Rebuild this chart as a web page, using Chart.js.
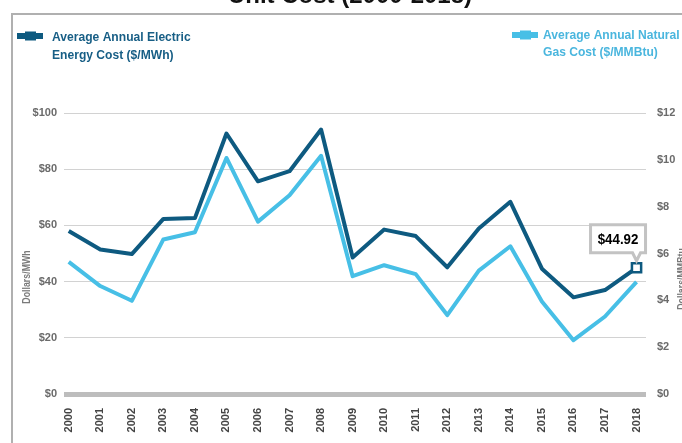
<!DOCTYPE html>
<html>
<head>
<meta charset="utf-8">
<title>Average Annual Energy Cost</title>
<script src="https://cdn.jsdelivr.net/npm/chart.js@4.4.1/dist/chart.umd.min.js"></script>
<style>
  html, body { margin: 0; padding: 0; background: #ffffff; }
  #wrap { width: 682px; height: 443px; }
</style>
</head>
<body>
<div id="wrap"><canvas id="costChart" width="682" height="443"></canvas></div>
<script>
// values
var years = [2000, 2001, 2002, 2003, 2004, 2005, 2006, 2007, 2008, 2009,
  2010, 2011, 2012, 2013, 2014, 2015, 2016, 2017, 2018];
var electricCost = [58.0, 51.4, 49.8, 62.3, 62.6, 92.7, 75.7, 79.3, 94.1, 48.6,
  58.5, 56.2, 45.1, 58.9, 68.4, 44.6, 34.4, 37.0, 44.92];
var gasCost = [5.64, 4.61, 3.98, 6.6, 6.91, 10.08, 7.36, 8.49, 10.17, 5.03,
  5.5, 5.12, 3.37, 5.27, 6.31, 3.95, 2.3, 3.31, 4.79];
var electricLabel = ["Average Annual Electric", "Energy Cost ($/MWh)"];
var gasLabel = ["Average Annual Natural", "Gas Cost ($/MMBtu)"];
var chartTitle = "Unit Cost (2000-2018)";
var leftAxisTitle = "Dollars/MWh";
var rightAxisTitle = "Dollars/MMBtu";

var electricColor = "#0e5a80";
var gasColor = "#47bfe6";
var sansFont = "'Liberation Sans', Arial, sans-serif";

function toPoints(values) {
  return values.map(function (v, i) {
    return { x: years[i], y: v };
  });
}

function drawMarker(ctx, x, y, color) {
  ctx.fillStyle = color;
  ctx.fillRect(x, y - 3, 26, 6);
  ctx.fillRect(x + 8, y - 4.5, 11, 9);
}

// squeeze text sideways, the original uses a condensed face
function fillNarrow(ctx, text, x, y, sx, angle) {
  ctx.save();
  ctx.translate(x, y);
  if (angle) ctx.rotate(angle);
  ctx.scale(sx, 1);
  ctx.fillText(text, 0, 0);
  ctx.restore();
}

// frame, cut title, legend, axis titles and the last-value callout
var decorPlugin = {
  id: "decor",
  afterDraw: function (chart) {
    var ctx = chart.ctx;
    ctx.save();

    ctx.strokeStyle = "#b0b0b0";
    ctx.lineWidth = 2;
    ctx.beginPath();
    ctx.moveTo(12, 443);
    ctx.lineTo(12, 14);
    ctx.lineTo(682, 14);
    ctx.stroke();

    // title sits mostly above the crop, only its foot shows
    ctx.fillStyle = "#111111";
    ctx.font = "bold 24px " + sansFont;
    ctx.textAlign = "center";
    ctx.textBaseline = "alphabetic";
    ctx.fillText(chartTitle, 350, 3);

    ctx.textAlign = "left";
    ctx.textBaseline = "middle";
    ctx.font = "bold 13px " + sansFont;
    drawMarker(ctx, 17, 36, electricColor);
    ctx.fillStyle = "#175e85";
    fillNarrow(ctx, electricLabel[0], 52, 37, 0.93);
    fillNarrow(ctx, electricLabel[1], 52, 55, 0.93);
    drawMarker(ctx, 512, 35, gasColor);
    ctx.fillStyle = "#4ab6de";
    fillNarrow(ctx, gasLabel[0], 543, 35, 0.93);
    fillNarrow(ctx, gasLabel[1], 543, 52, 0.93);

    ctx.font = "bold 11px " + sansFont;
    ctx.fillStyle = "#7a7a7a";
    ctx.textAlign = "center";
    fillNarrow(ctx, leftAxisTitle, 27, 277, 0.8, -Math.PI / 2);
    fillNarrow(ctx, rightAxisTitle, 682, 279, 0.8, -Math.PI / 2);

    var meta = chart.getDatasetMeta(0);
    var last = meta.data[meta.data.length - 1];
    var right = last.x + 9;
    var left = right - 55;
    var bottom = last.y - 15;
    var top = bottom - 28;
    ctx.beginPath();
    ctx.moveTo(left, top);
    ctx.lineTo(right, top);
    ctx.lineTo(right, bottom);
    ctx.lineTo(last.x + 4, bottom);
    ctx.lineTo(last.x, last.y - 7);
    ctx.lineTo(last.x - 4, bottom);
    ctx.lineTo(left, bottom);
    ctx.closePath();
    ctx.fillStyle = "#ffffff";
    ctx.fill();
    ctx.strokeStyle = "#c3c3c3";
    ctx.lineWidth = 3;
    ctx.stroke();
    ctx.fillStyle = "#000000";
    ctx.font = "bold 14px " + sansFont;
    fillNarrow(ctx, "$" + electricCost[electricCost.length - 1].toFixed(2),
      (left + right) / 2, (top + bottom) / 2 + 1, 0.95);

    ctx.restore();
  },
};

var ctx = document.getElementById("costChart").getContext("2d");
var costChart = new Chart(ctx, {
  type: "line",
  data: {
    datasets: [
      {
        label: electricLabel.join(" "),
        data: toPoints(electricCost),
        yAxisID: "y",
        borderColor: electricColor,
        borderWidth: 4,
        borderJoinStyle: "round",
        tension: 0,
        pointStyle: "rect",
        pointRadius: function (c) {
          return c.dataIndex === years.length - 1 ? 6.5 : 0;
        },
        pointHoverRadius: 0,
        pointBackgroundColor: "#ffffff",
        pointBorderColor: electricColor,
        pointBorderWidth: 2.5,
      },
      {
        label: gasLabel.join(" "),
        data: toPoints(gasCost),
        yAxisID: "y2",
        borderColor: gasColor,
        borderWidth: 4,
        borderJoinStyle: "round",
        tension: 0,
        pointRadius: 0,
        pointHoverRadius: 0,
      },
    ],
  },
  options: {
    responsive: false,
    animation: false,
    layout: { padding: { top: 113, left: 0, right: 0, bottom: 0 } },
    plugins: {
      legend: { display: false },
      tooltip: { enabled: false },
    },
    scales: {
      x: {
        type: "linear",
        min: 1999.85,
        max: 2018.3,
        grid: { display: false, drawTicks: false },
        border: { display: false },
        ticks: {
          stepSize: 1,
          includeBounds: false,
          autoSkip: false,
          minRotation: 90,
          maxRotation: 90,
          padding: 14,
          color: "#444444",
          font: { family: sansFont, size: 11, weight: "bold" },
          callback: function (v) {
            return String(v);
          },
        },
        afterFit: function (s) {
          s.height = 49;
        },
      },
      y: {
        position: "left",
        min: 0,
        max: 100,
        border: { display: false },
        grid: {
          drawTicks: false,
          color: function (c) {
            return c.tick.value === 0 ? "#bdbdbd" : "#d2d2d2";
          },
          lineWidth: function (c) {
            return c.tick.value === 0 ? 5 : 1;
          },
        },
        ticks: {
          stepSize: 20,
          padding: 7,
          color: "#6b6b6b",
          font: { family: sansFont, size: 11, weight: "bold" },
          callback: function (v) {
            return "$" + v;
          },
        },
        afterFit: function (s) {
          s.width = 64;
        },
      },
      y2: {
        position: "right",
        min: 0,
        max: 12,
        border: { display: false },
        grid: { display: false, drawTicks: false },
        ticks: {
          stepSize: 2,
          padding: 11,
          color: "#6b6b6b",
          font: { family: sansFont, size: 11, weight: "bold" },
          callback: function (v) {
            return "$" + v;
          },
        },
        afterFit: function (s) {
          s.width = 36;
        },
      },
    },
  },
  plugins: [decorPlugin],
});
</script>
</body>
</html>
